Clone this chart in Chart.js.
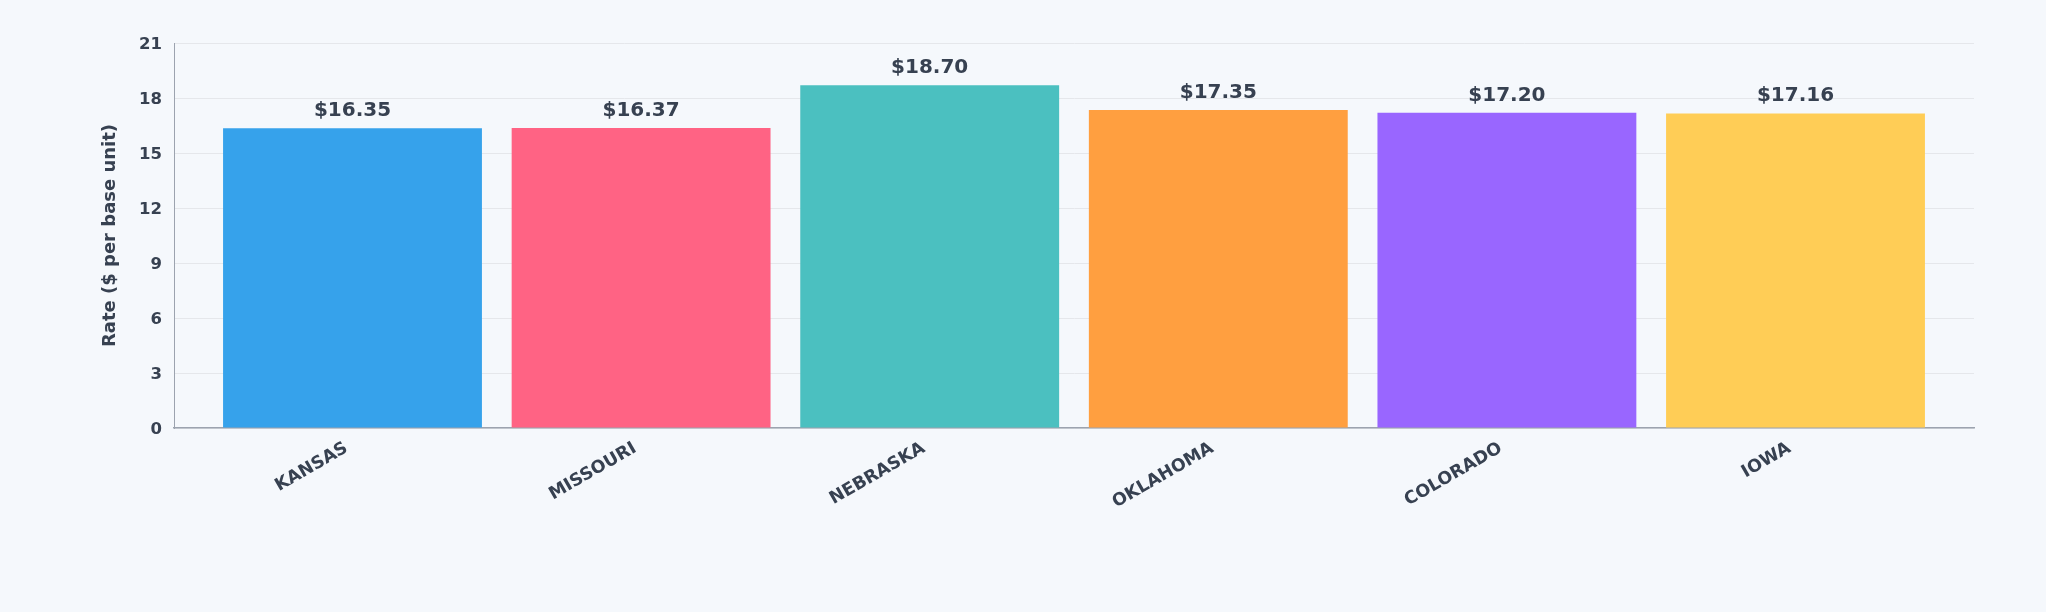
<!DOCTYPE html>
<html>
<head>
<meta charset="utf-8">
<script src="https://cdn.jsdelivr.net/npm/chart.js@4.4.1/dist/chart.umd.min.js"></script>
<style>
  html, body { margin: 0; padding: 0; background: #f5f8fc; }
  #wrap { width: 2046px; height: 612px; }
</style>
</head>
<body>
<div id="wrap"><canvas id="c" width="2046" height="612"></canvas></div>
<script>
const categories = ["KANSAS", "MISSOURI", "NEBRASKA", "OKLAHOMA", "COLORADO", "IOWA"];
const rates = [16.35, 16.37, 18.70, 17.35, 17.20, 17.16];
const barColors = ["#36A2EB", "#FF6384", "#4BC0C0", "#FF9F40", "#9966FF", "#FFCD56"];
const yTitle = "Rate ($ per base unit)";
const yMax = 21;
const yStep = 3;

const textColor = "#374151";
const font = "'DejaVu Sans', sans-serif";

const valueLabels = {
  id: "valueLabels",
  afterDatasetsDraw(chart) {
    const ctx = chart.ctx;
    const meta = chart.getDatasetMeta(0);
    ctx.save();
    ctx.fillStyle = textColor;
    ctx.font = "bold 20px " + font;
    ctx.textAlign = "center";
    ctx.textBaseline = "alphabetic";
    meta.data.forEach((bar, i) => {
      ctx.fillText("$" + rates[i].toFixed(2), bar.x, bar.y - 12);
    });
    ctx.restore();
  }
};

new Chart(document.getElementById("c"), {
  type: "bar",
  data: {
    datasets: [{
      data: rates.map((v, i) => ({ x: i, y: v })),
      backgroundColor: barColors,
      borderWidth: 0,
      categoryPercentage: 1.0,
      barPercentage: 0.897
    }]
  },
  plugins: [valueLabels],
  options: {
    responsive: false,
    animation: false,
    layout: { padding: { top: 43, right: 72, bottom: 0, left: 96 } },
    plugins: { legend: { display: false }, tooltip: { enabled: false } },
    scales: {
      x: {
        type: "linear",
        min: -0.6185,
        max: 5.6185,
        offset: false,
        afterBuildTicks(scale) { scale.ticks = categories.map((c, i) => ({ value: i })); },
        afterFit(scale) { scale.height = 184; },
        grid: { display: false, drawTicks: false },
        border: { display: true, color: "#9ca3af", width: 1.5 },
        ticks: {
          autoSkip: false,
          minRotation: 30,
          maxRotation: 30,
          padding: 10,
          labelOffset: -6,
          color: textColor,
          font: { family: font, size: 17.5, weight: "bold" },
          callback: (v) => categories[Math.round(v)]
        }
      },
      y: {
        min: 0,
        max: yMax,
        afterFit(scale) { scale.width = 174 - 96; },
        grid: { color: "#e5e7eb", drawTicks: false, lineWidth: 1 },
        border: { display: true, color: "#9ca3af", width: 1 },
        ticks: {
          stepSize: yStep,
          padding: 12,
          labelOffset: 2,
          color: textColor,
          font: { family: font, size: 16.5, weight: "bold" }
        },
        title: {
          display: true,
          text: yTitle,
          color: textColor,
          font: { family: font, size: 18, weight: "bold" },
          padding: { top: 4, bottom: 4 }
        }
      }
    }
  }
});
</script>
</body>
</html>
